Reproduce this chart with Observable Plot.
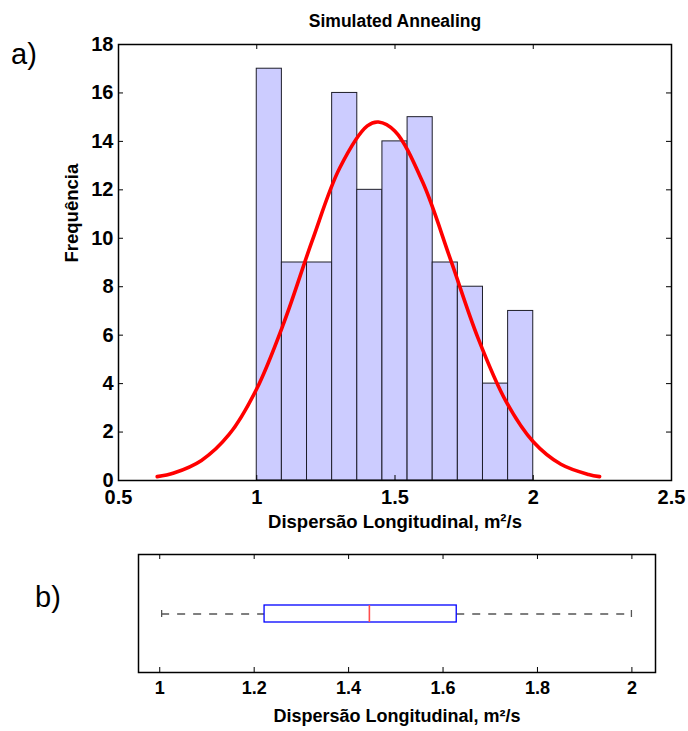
<!DOCTYPE html>
<html><head><meta charset="utf-8">
<script src="https://cdn.jsdelivr.net/npm/d3@7"></script>
<script src="https://cdn.jsdelivr.net/npm/@observablehq/plot@0.6"></script>
<style>
body{margin:0;background:#fff;}
#wrap{position:relative;width:688px;height:731px;font-family:"Liberation Sans",Arial,sans-serif;background:#fff;overflow:hidden;}
.panel{position:absolute;left:0;}
.tag{position:absolute;font-size:29px;line-height:normal;color:#000;}
</style></head><body>
<div id="wrap">
<div id="p1" class="panel" style="top:0"></div>
<div id="p2" class="panel" style="top:540px"></div>
<div class="tag" style="left:11px;top:38px">a)</div>
<div class="tag" style="left:35px;top:581px">b)</div>
</div>
<script>
// ---- data ----
const binEdges = [1.0, 1.0909, 1.1818, 1.2727, 1.3636, 1.4545, 1.5455, 1.6364, 1.7273, 1.8182, 1.9091, 2.0];
const binCounts = [17, 9, 9, 16, 12, 14, 15, 9, 8, 4, 7];
const fitX = [0.64, 0.7, 0.8, 0.9, 1.0, 1.1, 1.2, 1.3, 1.4, 1.44, 1.5, 1.6, 1.7, 1.8, 1.9, 2.0, 2.1, 2.2, 2.24];
const fitY = [0.16, 0.31, 0.83, 1.90, 3.79, 6.57, 9.88, 12.9, 14.64, 14.8, 14.42, 12.32, 9.15, 5.89, 3.30, 1.60, 0.67, 0.25, 0.16];
const xTicksTop = [0.5, 1, 1.5, 2, 2.5];
const yTicksTop = [0, 2, 4, 6, 8, 10, 12, 14, 16, 18];
const xTicksBox = [1, 1.2, 1.4, 1.6, 1.8, 2];
const boxStats = {k: "dist", min: 1.004, q1: 1.222, median: 1.444, q3: 1.629, max: 1.999};
const titleText = "Simulated Annealing";
const xLabelText = "Dispersão Longitudinal, m²/s";
const yLabelText = "Frequência";

const bins = binCounts.map((c, i) => ({x1: binEdges[i], x2: binEdges[i + 1], count: c}));
const fit = fitX.map((x, i) => ({x, y: fitY[i]}));
const fmt = d => String(d);
const FONT = '"Liberation Sans", Arial, Helvetica, sans-serif';

const p1 = Plot.plot({
  width: 688, height: 540,
  marginTop: 44, marginBottom: 60, marginLeft: 118, marginRight: 17,
  style: {fontFamily: FONT, fontSize: "20px", fontWeight: "bold", background: "white", overflow: "visible", color: "black"},
  x: {domain: [0.5, 2.5]},
  y: {domain: [0, 18]},
  marks: [
    Plot.rect(bins, {x1: "x1", x2: "x2", y1: 0, y2: "count", fill: "#ccccff", stroke: "#1e1e2a", strokeWidth: 1}),
    Plot.line(fit, {x: "x", y: "y", stroke: "#ff0000", strokeWidth: 3.6, curve: "catmull-rom"}),
    Plot.gridX(xTicksTop, {stroke: "black", strokeOpacity: 1, insetTop: 431}),
    Plot.gridX(xTicksTop, {stroke: "black", strokeOpacity: 1, insetBottom: 431}),
    Plot.gridY(yTicksTop, {stroke: "black", strokeOpacity: 1, insetRight: 548}),
    Plot.gridY(yTicksTop, {stroke: "black", strokeOpacity: 1, insetLeft: 548}),
    Plot.axisX(xTicksTop, {anchor: "bottom", tickSize: 0, tickPadding: 9, tickFormat: fmt, label: null, fontSize: 20}),
    Plot.axisY(yTicksTop, {anchor: "left", tickSize: 0, tickPadding: 5, tickFormat: fmt, label: null, fontSize: 20}),
    Plot.frame({stroke: "black", strokeWidth: 1.5}),
    Plot.text([titleText], {text: d => d, frameAnchor: "top", dy: -23, lineAnchor: "middle", fontSize: 17.5, fontWeight: "bold"}),
    Plot.text([xLabelText], {text: d => d, frameAnchor: "bottom", dy: 42, lineAnchor: "middle", fontSize: 18.5, fontWeight: "bold"}),
    Plot.text([yLabelText], {text: d => d, frameAnchor: "left", dx: -46, rotate: -90, lineAnchor: "middle", fontSize: 18.5, fontWeight: "bold"})
  ]
});
document.getElementById("p1").append(p1);

const p2 = Plot.plot({
  width: 688, height: 191,
  marginTop: 14, marginBottom: 59, marginLeft: 138, marginRight: 33,
  style: {fontFamily: FONT, fontSize: "18px", fontWeight: "bold", background: "white", overflow: "visible", color: "black"},
  x: {domain: [0.955, 2.05]},
  y: {domain: ["dist"], axis: null, padding: 0.748},
  marks: [
    Plot.ruleY([boxStats], {y: "k", x1: "min", x2: "q1", stroke: "#555", strokeWidth: 1.3, strokeDasharray: "8,8"}),
    Plot.ruleY([boxStats], {y: "k", x1: "q3", x2: "max", stroke: "#555", strokeWidth: 1.3, strokeDasharray: "8,8"}),
    Plot.tickX([boxStats], {x: "min", y: "k", insetTop: 5, insetBottom: 5, stroke: "#555", strokeWidth: 1.3}),
    Plot.tickX([boxStats], {x: "max", y: "k", insetTop: 5, insetBottom: 5, stroke: "#555", strokeWidth: 1.3}),
    Plot.barX([boxStats], {x1: "q1", x2: "q3", y: "k", fill: "white", stroke: "#0000ff", strokeWidth: 1.3}),
    Plot.tickX([boxStats], {x: "median", y: "k", stroke: "#ff4d4d", strokeWidth: 1.6}),
    Plot.gridX(xTicksBox, {stroke: "black", strokeOpacity: 1, insetTop: 113}),
    Plot.gridX(xTicksBox, {stroke: "black", strokeOpacity: 1, insetBottom: 113}),
    Plot.axisX(xTicksBox, {anchor: "bottom", tickSize: 0, tickPadding: 9, tickFormat: fmt, label: null, fontSize: 18}),
    Plot.frame({stroke: "black", strokeWidth: 1.5}),
    Plot.text([xLabelText], {text: d => d, frameAnchor: "bottom", dy: 44, lineAnchor: "middle", fontSize: 18, fontWeight: "bold"})
  ]
});
document.getElementById("p2").append(p2);
</script>
</body></html>
